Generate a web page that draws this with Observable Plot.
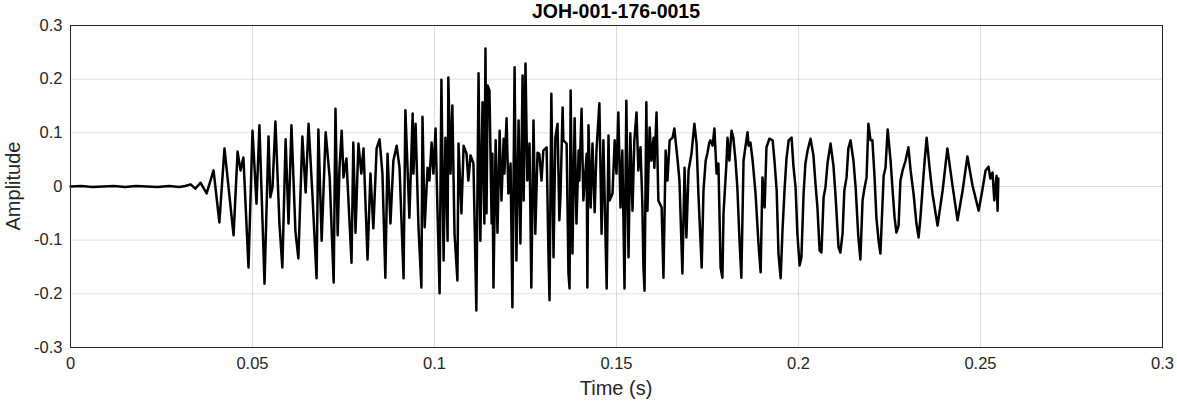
<!DOCTYPE html>
<html>
<head>
<meta charset="utf-8">
<script src="https://cdn.jsdelivr.net/npm/d3@7"></script>
<script src="https://cdn.jsdelivr.net/npm/@observablehq/plot@0.6"></script>
<style>
  html, body { margin: 0; padding: 0; background: #fff; }
  #wrap { position: relative; width: 1177px; height: 404px; font-family: "Liberation Sans", Arial, sans-serif; }
  #title { position: absolute; left: 70px; width: 1092px; top: 0px; text-align: center; font-weight: bold; font-size: 19.5px; line-height: 23px; color: #000; }
  #ylab { position: absolute; left: 13px; top: 186px; transform: translate(-50%, -50%) rotate(-90deg); font-size: 20px; color: #262626; white-space: nowrap; }
  #xlab { position: absolute; left: 616px; top: 376px; transform: translateX(-50%); font-size: 20px; line-height: 24px; color: #262626; white-space: nowrap; }
</style>
</head>
<body>
<div id="wrap">
  <div id="chart"></div>
  <div id="title">JOH-001-176-0015</div>
  <div id="ylab">Amplitude</div>
  <div id="xlab">Time (s)</div>
</div>
<script>
const chartTitle = "JOH-001-176-0015";
const xLabel = "Time (s)";
const yLabel = "Amplitude";

const xTicks = [0, 0.05, 0.1, 0.15, 0.2, 0.25, 0.3];
const xTickLabels = ["0", "0.05", "0.1", "0.15", "0.2", "0.25", "0.3"];
const yTicks = [-0.3, -0.2, -0.1, 0, 0.1, 0.2, 0.3];
const yTickLabels = ["-0.3", "-0.2", "-0.1", "0", "0.1", "0.2", "0.3"];

// time (s) of each traced sample
const time = [
0.0000,0.0030,0.0060,0.0090,0.0120,0.0150,0.0180,0.0210,0.0240,0.0270,0.0300,0.0315,
0.0330,0.0343,0.0357,0.0374,0.0393,0.0409,0.0423,0.0448,0.0459,0.0467,0.0475,0.0489,
0.0500,0.0511,0.0519,0.0533,0.0544,0.0549,0.0555,0.0563,0.0574,0.0582,0.0591,0.0599,
0.0607,0.0618,0.0626,0.0637,0.0646,0.0654,0.0665,0.0676,0.0681,0.0690,0.0701,0.0712,
0.0723,0.0728,0.0734,0.0739,0.0745,0.0750,0.0758,0.0772,0.0777,0.0783,0.0791,0.0799,
0.0805,0.0816,0.0824,0.0832,0.0841,0.0849,0.0857,0.0865,0.0871,0.0879,0.0887,0.0896,
0.0904,0.0915,0.0920,0.0931,0.0940,0.0942,0.0948,0.0956,0.0964,0.0967,0.0973,0.0981,
0.0986,0.0992,0.0997,0.1003,0.1008,0.1014,0.1019,0.1025,0.1030,0.1036,0.1038,0.1044,
0.1049,0.1055,0.1063,0.1066,0.1074,0.1080,0.1088,0.1093,0.1099,0.1107,0.1115,0.1121,
0.1126,0.1132,0.1137,0.1140,0.1143,0.1146,0.1151,0.1157,0.1159,0.1162,0.1168,0.1173,
0.1179,0.1184,0.1190,0.1192,0.1198,0.1203,0.1209,0.1214,0.1220,0.1225,0.1231,0.1236,
0.1242,0.1245,0.1250,0.1255,0.1261,0.1266,0.1272,0.1277,0.1283,0.1288,0.1294,0.1299,
0.1308,0.1313,0.1316,0.1321,0.1327,0.1332,0.1338,0.1343,0.1346,0.1352,0.1354,0.1363,
0.1368,0.1371,0.1374,0.1379,0.1385,0.1390,0.1396,0.1398,0.1404,0.1409,0.1418,0.1420,
0.1423,0.1429,0.1434,0.1440,0.1445,0.1453,0.1459,0.1464,0.1473,0.1478,0.1481,0.1489,
0.1495,0.1500,0.1505,0.1511,0.1516,0.1522,0.1527,0.1533,0.1538,0.1544,0.1549,0.1555,
0.1560,0.1566,0.1571,0.1574,0.1577,0.1582,0.1585,0.1591,0.1596,0.1602,0.1604,0.1610,
0.1615,0.1624,0.1629,0.1635,0.1637,0.1640,0.1646,0.1654,0.1659,0.1668,0.1673,0.1681,
0.1687,0.1692,0.1698,0.1706,0.1714,0.1720,0.1725,0.1734,0.1739,0.1745,0.1750,0.1755,
0.1758,0.1764,0.1769,0.1775,0.1780,0.1786,0.1791,0.1794,0.1802,0.1805,0.1810,0.1816,
0.1821,0.1827,0.1832,0.1838,0.1843,0.1849,0.1854,0.1860,0.1863,0.1868,0.1874,0.1882,
0.1890,0.1896,0.1901,0.1907,0.1912,0.1920,0.1929,0.1934,0.1940,0.1945,0.1951,0.1956,
0.1962,0.1967,0.1973,0.1981,0.1986,0.1992,0.1997,0.2003,0.2008,0.2014,0.2019,0.2025,
0.2033,0.2041,0.2047,0.2052,0.2058,0.2063,0.2069,0.2074,0.2080,0.2088,0.2096,0.2102,
0.2110,0.2115,0.2121,0.2126,0.2132,0.2137,0.2143,0.2151,0.2157,0.2164,0.2170,0.2176,
0.2181,0.2187,0.2192,0.2198,0.2203,0.2209,0.2214,0.2220,0.2225,0.2234,0.2239,0.2245,
0.2253,0.2258,0.2264,0.2269,0.2275,0.2280,0.2286,0.2294,0.2302,0.2308,0.2316,0.2324,
0.2330,0.2335,0.2341,0.2346,0.2352,0.2360,0.2368,0.2382,0.2396,0.2409,0.2423,0.2437,
0.2451,0.2464,0.2478,0.2495,0.2505,0.2514,0.2522,0.2527,0.2533,0.2538,0.2544,0.2547,
0.2549
];

// amplitude of each traced sample
const amplitude = [
0.000,0.001,-0.001,0.000,0.001,-0.001,0.001,0.000,-0.001,0.001,-0.001,0.001,
0.004,-0.004,0.007,-0.013,0.030,-0.067,0.071,-0.091,0.065,0.030,0.054,-0.151,
0.104,-0.032,0.114,-0.181,0.093,-0.020,-0.002,0.121,-0.069,-0.151,0.088,-0.069,
0.114,-0.084,-0.134,0.093,-0.011,0.117,-0.020,-0.171,0.106,-0.101,0.101,0.017,
-0.179,0.145,-0.091,0.035,0.104,0.017,0.052,-0.142,0.082,-0.086,0.080,0.024,
0.071,-0.136,0.024,-0.078,0.071,0.088,0.024,-0.170,0.061,-0.069,0.048,0.076,
0.035,-0.171,0.142,-0.058,0.136,0.024,0.117,-0.076,-0.188,0.130,-0.076,0.035,
0.011,0.082,0.024,0.108,-0.039,-0.199,0.199,-0.138,0.091,-0.101,0.203,0.024,
0.151,-0.088,-0.175,0.080,-0.050,0.076,0.061,0.011,0.058,0.043,-0.231,0.211,
-0.101,0.157,-0.069,0.257,-0.050,0.188,0.179,-0.069,0.061,-0.188,0.086,-0.086,
0.104,-0.026,0.089,0.024,0.127,-0.013,0.043,-0.225,0.222,-0.138,0.123,-0.106,
0.207,-0.026,0.229,0.011,0.080,-0.188,0.123,-0.088,0.063,0.061,0.011,0.067,
0.073,-0.125,-0.212,0.173,-0.132,0.091,0.117,-0.063,-0.020,0.147,0.086,0.080,
-0.162,-0.190,0.179,-0.125,0.127,-0.069,0.067,0.011,0.145,-0.026,0.061,-0.188,
0.114,-0.039,0.080,-0.048,0.067,0.155,-0.088,0.086,-0.190,0.095,-0.026,-0.013,
0.086,0.024,0.138,-0.039,0.067,-0.190,0.160,-0.132,0.099,-0.045,0.086,0.138,
0.030,0.073,-0.032,-0.151,-0.194,0.157,-0.045,0.110,0.048,0.091,0.035,0.138,
-0.026,-0.039,-0.170,0.067,0.048,0.011,0.086,0.091,0.108,0.048,0.011,-0.162,
0.035,-0.095,0.030,0.061,0.117,0.080,-0.013,-0.151,-0.007,0.048,0.063,0.082,
0.086,0.076,0.108,0.024,0.043,-0.151,-0.170,-0.050,0.043,0.091,0.048,0.104,
0.091,0.048,-0.002,-0.101,-0.170,0.048,0.073,0.101,0.076,0.082,0.048,-0.013,
-0.106,-0.160,0.017,-0.039,0.073,0.089,0.086,0.048,-0.007,-0.125,-0.171,-0.082,
-0.002,0.052,0.086,0.091,0.039,-0.002,-0.088,-0.147,-0.132,-0.013,0.043,0.067,
0.089,0.058,0.002,-0.039,-0.119,-0.123,-0.020,-0.002,0.045,0.080,0.039,-0.020,
-0.114,-0.123,-0.088,-0.007,0.017,0.071,0.086,0.048,-0.002,-0.090,-0.136,-0.026,
-0.004,0.017,0.117,0.086,0.086,0.017,-0.058,-0.101,-0.125,0.020,0.035,0.106,
0.048,-0.002,-0.058,-0.086,-0.073,0.011,0.030,0.048,0.073,0.030,-0.013,-0.069,
-0.095,-0.058,-0.002,0.043,0.091,0.035,-0.013,-0.073,-0.007,0.071,0.002,-0.063,
-0.007,0.056,0.002,-0.045,-0.007,0.030,0.037,0.015,0.026,-0.026,0.020,-0.045,
0.015
];

document.getElementById("title").textContent = chartTitle;
document.getElementById("xlab").textContent = xLabel;
document.getElementById("ylab").textContent = yLabel;

const data = time.map((t, i) => ({t, a: amplitude[i]}));

const chart = Plot.plot({
  width: 1177,
  height: 404,
  marginLeft: 70,
  marginRight: 15,
  marginTop: 25,
  marginBottom: 57,
  style: {fontFamily: '"Liberation Sans", Arial, sans-serif', fontSize: "16px", color: "#262626", background: "#fff"},
  x: {domain: [0, 0.3]},
  y: {domain: [-0.3, 0.3]},
  marks: [
    Plot.gridX(xTicks, {stroke: "#000", strokeOpacity: 0.13}),
    Plot.gridY(yTicks, {stroke: "#000", strokeOpacity: 0.13}),
    Plot.axisX(xTicks, {tickFormat: (d, i) => xTickLabels[i], tickSize: 0, tickPadding: 10, fontSize: 16.5, label: null}),
    Plot.axisY(yTicks, {tickFormat: (d, i) => yTickLabels[i], tickSize: 0, tickPadding: 8, fontSize: 16.5, label: null}),
    Plot.line(data, {x: "t", y: "a", stroke: "#000", strokeWidth: 2.5, strokeLinejoin: "round"}),
    Plot.frame({stroke: "#262626", strokeWidth: 1})
  ]
});
document.getElementById("chart").appendChild(chart);
</script>
</body>
</html>
